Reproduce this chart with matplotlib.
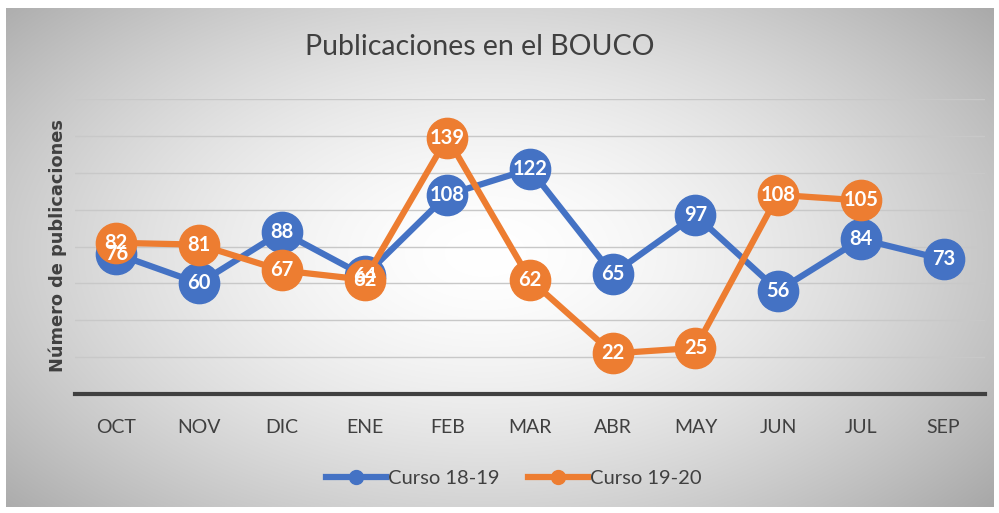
import numpy as np
import matplotlib
matplotlib.use("Agg")
import matplotlib.pyplot as plt
from matplotlib.lines import Line2D

months = ["OCT", "NOV", "DIC", "ENE", "FEB", "MAR", "ABR", "MAY", "JUN", "JUL", "SEP"]
curso_18_19 = [76, 60, 88, 64, 108, 122, 65, 97, 56, 84, 73]
curso_19_20 = [82, 81, 67, 62, 139, 62, 22, 25, 108, 105, np.nan]
series_names = ["Curso 18-19", "Curso 19-20"]
colors = ["#4472C4", "#ED7D31"]

W, H = 999, 513
fig = plt.figure(figsize=(W / 100, H / 100), dpi=100)
fig.patch.set_facecolor("white")

# radial gradient background
bg = fig.add_axes([0.006, 0.012, 0.988, 0.972], zorder=-10)
yy, xx = np.mgrid[0:500, 0:990]
cx, cy = 480, 245
r = np.sqrt(((xx - cx) / 560.0) ** 2 + ((yy - cy) / 330.0) ** 2)
val = 1.0 - 0.26 * np.clip(r, 0, 1.2) ** 1.6
img = np.dstack([val, val, val])
bg.imshow(np.clip(img, 0, 1), aspect="auto", extent=[0, 1, 0, 1], interpolation="bilinear")
bg.set_axis_off()

ax = fig.add_axes([75 / W, 1 - 394 / H, 910 / W, 295 / H])
ax.set_facecolor("none")
x = np.arange(len(months))
fam = ["Lato", "DejaVu Sans"]
for i, (vals, c) in enumerate(zip([curso_18_19, curso_19_20], colors)):
    ax.plot(x, vals, color=c, lw=4.5, marker="o", ms=29, zorder=3 + i,
            solid_capstyle="round", clip_on=False)
for vals in [curso_18_19, curso_19_20]:
    for xi, v in zip(x, vals):
        if np.isnan(v):
            continue
        ax.text(xi, v, f"{int(v)}", ha="center", va="center", color="white",
                fontsize=14.5, fontweight="bold", family=fam, zorder=10)

ax.set_xlim(-0.5, len(months) - 0.5)
ax.set_ylim(0, 160)
ax.set_yticks(np.arange(20, 161, 20))
ax.yaxis.grid(True, color="#c8c8c8", lw=1.0)
ax.set_axisbelow(True)
ax.tick_params(axis="y", length=0, labelleft=False)
ax.tick_params(axis="x", length=0, pad=18, labelsize=14, labelcolor="#404040")
ax.set_xticks(x)
ax.set_xticklabels(months, family=fam)
for s in ["top", "right", "left"]:
    ax.spines[s].set_visible(False)
ax.spines["bottom"].set_color("#404040")
ax.spines["bottom"].set_linewidth(3)

fig.text(480 / W, 1 - 47 / H, "Publicaciones en el BOUCO", ha="center", va="center",
         fontsize=20.5, color="#404040", family=fam)
fig.text(58 / W, 1 - 245 / H, "Número de publicaciones", ha="center", va="center",
         rotation=90, fontsize=12.8, fontweight="bold", color="#404040", family="DejaVu Sans")

handles = [Line2D([], [], color=c, lw=4.5, marker="o", ms=10) for c in colors]
leg = fig.legend(handles, series_names, loc="center", bbox_to_anchor=(514 / W, 1 - 478 / H),
                 ncol=2, frameon=False, handlelength=3.0, handletextpad=0.1,
                 columnspacing=1.4, prop={"family": fam, "size": 14.5})
for t in leg.get_texts():
    t.set_color("#404040")

fig.savefig("out.png", dpi=100)
